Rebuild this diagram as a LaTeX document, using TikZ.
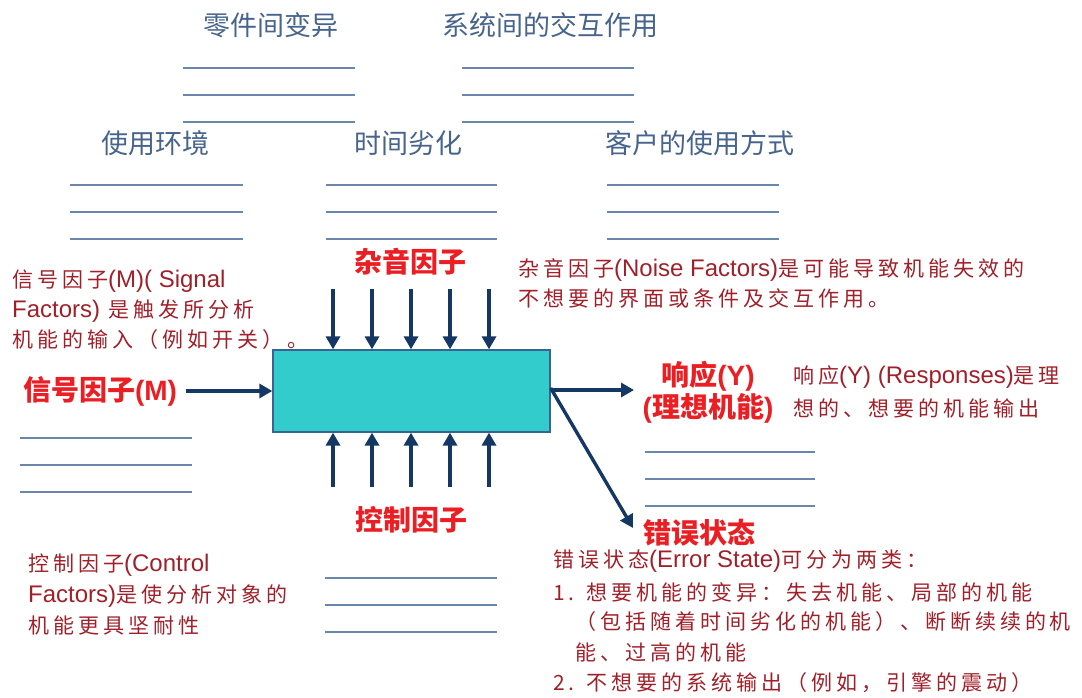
\documentclass[tikz,border=0pt]{standalone}
\usepackage{fontspec}
\usetikzlibrary{arrows.meta}
\newfontfamily\cjk{Noto Sans CJK SC}
\newfontfamily\cjkd[LetterSpace=19]{Noto Sans CJK SC}
\newfontfamily\lat{Liberation Sans}
\newcommand\la[1]{{\lat #1}}
\newcommand\lb[1]{{\fontsize{24}{28}\selectfont\lat #1}}
\definecolor{descred}{RGB}{160,32,42}
\definecolor{labred}{RGB}{235,30,35}
\definecolor{topblue}{RGB}{70,100,140}
\definecolor{rulecol}{RGB}{105,135,172}
\definecolor{arrcol}{RGB}{20,55,100}
\definecolor{boxfill}{RGB}{51,204,204}
\definecolor{boxline}{RGB}{55,100,145}
\tikzset{
  desc/.style={anchor=west, inner sep=0pt, text=descred, font=\fontsize{21}{25}\selectfont\cjkd},
  redlab/.style={inner sep=0pt, text=labred, font=\fontsize{28}{32}\selectfont\cjk\bfseries},
  toplab/.style={inner sep=0pt, text=topblue, font=\fontsize{27}{30}\selectfont\cjk},
  rulel/.style={draw=rulecol, line width=2.8pt},
  arr/.style={draw=arrcol, line width=3.4pt, -{Triangle[length=13pt,width=14pt]}},
  sysbox/.style={draw=boxline, line width=1.3pt, fill=boxfill, minimum width=277pt, minimum height=82pt, inner sep=0pt}
}
\begin{document}
\begin{tikzpicture}[x=1pt,y=-1pt]
\useasboundingbox (0,0) rectangle (1082,698);
% top labels
\node[toplab] (t1) at (271,25) {零件间变异};
\node[toplab] (t2) at (550,25) {系统间的交互作用};
\node[toplab] (t3) at (155,143) {使用环境};
\node[toplab] (t4) at (408,143) {时间劣化};
\node[toplab] (t5) at (700,143) {客户的使用方式};
% rule groups
\foreach \xa/\xb/\ya in {183/355/68, 462/634/68, 70/243/185, 326/497/185, 607/779/185, 20/192/438, 645/815/452, 325/497/578}{
  \draw[rulel] (\xa,\ya) -- (\xb,\ya);
  \draw[rulel] (\xa,\ya+27) -- (\xb,\ya+27);
  \draw[rulel] (\xa,\ya+54) -- (\xb,\ya+54);
}
% system box
\node[sysbox] (sys) at (411.5,391) {};
% noise
\node[redlab] (noise) at (410,262) {杂音因子};
\foreach \i/\x in {1/333,2/372,3/411,4/450,5/489}{
  \coordinate (n\i) at (\x,289);
  \draw[arr] (n\i) -- (n\i |- sys.north);
  \coordinate (c\i) at (\x,487);
  \draw[arr] (c\i) -- (c\i |- sys.south);
}
% control
\node[redlab] (ctrl) at (411,520) {控制因子};
% signal
\node[redlab] (sig) at (100,391) {信号因子\la{(M)}};
\draw[arr] ([xshift=9pt]sig.east) -- (sys.west);
% response
\coordinate (resp) at (634,390);
\draw[arr] (sys.east |- resp) -- (resp);
\node[redlab] (resp1) at (708,376) {响应\la{(Y)}};
\node[redlab] (resp2) at (708,408) {\la{(}理想机能\la{)}};
% error
\coordinate (err) at (633,528);
\draw[arr] ([yshift=2pt]sys.east |- resp) -- (err);
\node[redlab] (errl) at (699,533) {错误状态};
% descriptions
\node[desc] (sd1) at (12,281) {信号因子\lb{(M)( Signal}};
\node[desc] (sd2) at (12,311) {\lb{Factors)}\ 是触发所分析};
\node[desc] (sd3) at (12,340) {机能的输入（例如开关）。};
\node[desc] (nd1) at (518,270) {杂音因子\lb{(Noise Factors)}是可能导致机能失效的};
\node[desc] (nd2) at (518,298) {不想要的界面或条件及交互作用。};
\node[desc] (rd1) at (793,377) {响应\lb{(Y) (Responses)}是理};
\node[desc] (rd2) at (793,408) {想的、想要的机能输出};
\node[desc] (cd1) at (28,565) {控制因子\lb{(Control}};
\node[desc] (cd2) at (28,596) {\lb{Factors)}是使分析对象的};
\node[desc] (cd3) at (28,626) {机能更具坚耐性};
\node[desc] (ed1) at (553,561) {错误状态\lb{(Error State)}可分为两类：};
\node[desc] (ed2) at (553,592) {1. 想要机能的变异：失去机能、局部的机能};
\node[desc] (ed3) at (575,622) {（包括随着时间劣化的机能）、断断续续的机};
\node[desc] (ed4) at (575,652) {能、过高的机能};
\node[desc] (ed5) at (553,683) {2. 不想要的系统输出（例如，引擎的震动）};
\end{tikzpicture}
\end{document}
